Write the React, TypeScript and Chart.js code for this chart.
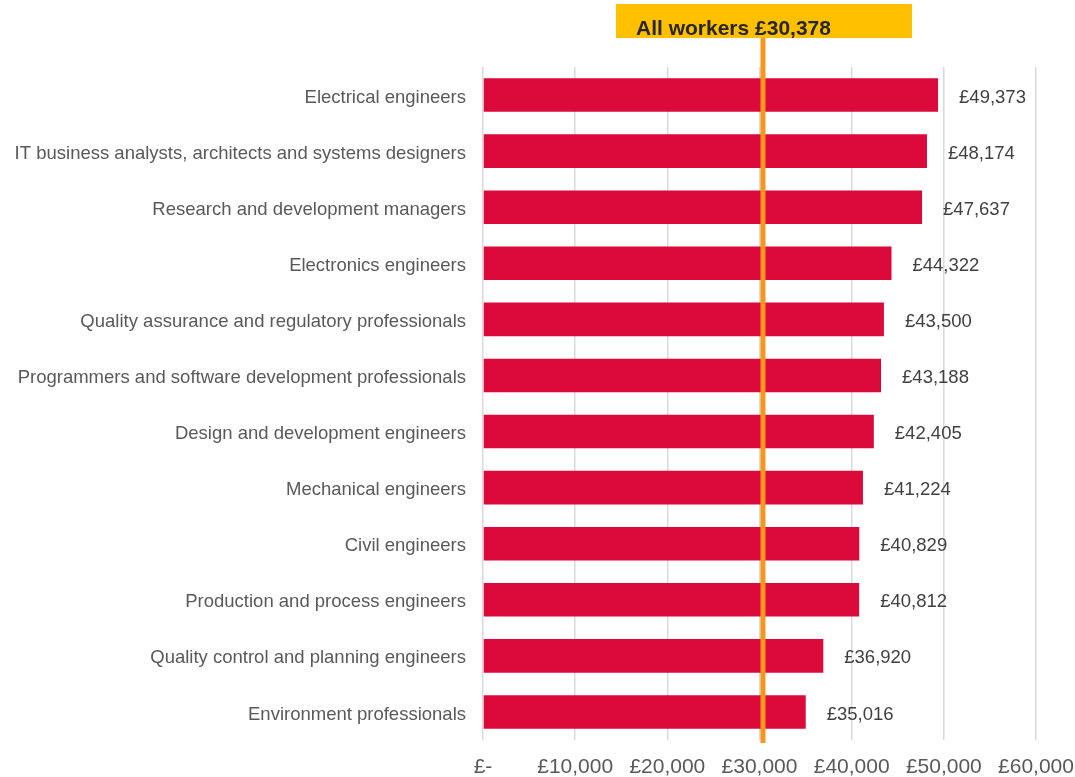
import React, { useEffect, useRef } from "react";
import { Chart, registerables } from "chart.js";

Chart.register(...registerables);

const categories: string[] = [
  "Electrical engineers",
  "IT business analysts, architects and systems designers",
  "Research and development managers",
  "Electronics engineers",
  "Quality assurance and regulatory professionals",
  "Programmers and software development professionals",
  "Design and development engineers",
  "Mechanical engineers",
  "Civil engineers",
  "Production and process engineers",
  "Quality control and planning engineers",
  "Environment professionals",
];

const salaries: number[] = [
  49373, 48174, 47637, 44322, 43500, 43188, 42405, 41224, 40829, 40812, 36920, 35016,
];

const allWorkersValue = 30378;
const allWorkersLabel = "All workers £30,378";

const xMin = 0;
const xMax = 60000;
const xStep = 10000;

const fmt = (v: number) => "£" + v.toLocaleString("en-GB");

const FONT = "'Liberation Sans', Arial, sans-serif";

export default function App() {
  const ref = useRef<HTMLCanvasElement | null>(null);

  useEffect(() => {
    if (!ref.current) return;

    const valueLabels = {
      id: "valueLabels",
      afterDatasetsDraw(chart: any) {
        const ctx = chart.ctx;
        const meta = chart.getDatasetMeta(0);
        ctx.save();
        ctx.font = `18.5px ${FONT}`;
        ctx.fillStyle = "#404040";
        ctx.textAlign = "left";
        ctx.textBaseline = "middle";
        meta.data.forEach((bar: any, i: number) => {
          ctx.fillText(fmt(salaries[i]), bar.x + 21, bar.y + 2.5);
        });
        ctx.restore();
      },
    };

    const avgLine = {
      id: "avgLine",
      afterDraw(chart: any) {
        const ctx = chart.ctx;
        const x = chart.scales.x.getPixelForValue(allWorkersValue);
        const area = chart.chartArea;
        ctx.save();
        ctx.strokeStyle = "#F7961C";
        ctx.lineWidth = 5;
        ctx.beginPath();
        ctx.moveTo(x, 38);
        ctx.lineTo(x, area.bottom + 3);
        ctx.stroke();
        const boxW = 296;
        const left = x - 147;
        ctx.fillStyle = "#FFC000";
        ctx.fillRect(left, 4, boxW, 34);
        ctx.font = `bold 21px ${FONT}`;
        ctx.fillStyle = "#262626";
        ctx.textAlign = "left";
        ctx.textBaseline = "middle";
        ctx.fillText(allWorkersLabel, left + 20, 29);
        ctx.restore();
      },
    };

    const chart = new Chart(ref.current, {
      type: "bar",
      data: {
        labels: categories,
        datasets: [
          {
            data: salaries,
            backgroundColor: "#DC0A3B",
            barPercentage: 0.6,
            categoryPercentage: 1,
          },
        ],
      },
      options: {
        indexAxis: "y",
        animation: false,
        responsive: false,
        maintainAspectRatio: false,
        layout: { padding: { top: 67, right: 39, left: 0, bottom: 0 } },
        plugins: {
          legend: { display: false },
          tooltip: { enabled: false },
        },
        scales: {
          x: {
            min: xMin,
            max: xMax,
            border: { display: false },
            grid: { color: "#D9D9D9", lineWidth: 1.5, drawTicks: false },
            ticks: {
              stepSize: xStep,
              color: "#595959",
              font: { size: 21, family: FONT },
              padding: 15,
              maxRotation: 0,
              callback: (v: any) => (Number(v) === 0 ? "£-" : fmt(Number(v))),
            },
            afterFit: (s: any) => {
              s.height = 37;
              s.paddingLeft = 0;
              s.paddingRight = 0;
            },
          },
          y: {
            border: { display: false },
            grid: { display: false, drawTicks: false },
            ticks: {
              color: "#595959",
              font: { size: 18.5, family: FONT },
              padding: 17,
              labelOffset: 2.5,
            },
            afterFit: (s: any) => {
              s.width = 483;
            },
          },
        },
      },
      plugins: [valueLabels, avgLine],
    });

    return () => chart.destroy();
  }, []);

  return (
    <div style={{ position: "fixed", left: 0, top: 0, width: 1075, height: 777, background: "#fff" }}>
      <canvas ref={ref} width={1075} height={777} style={{ width: 1075, height: 777 }} />
    </div>
  );
}
